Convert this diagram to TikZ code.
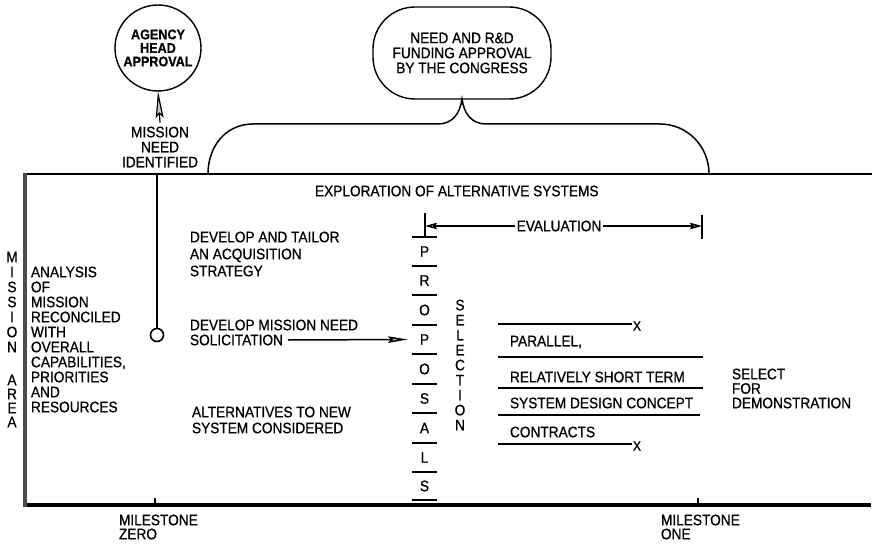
\documentclass[tikz,border=0pt]{standalone}
\usepackage{fontspec}
\setmainfont{Liberation Sans}[FakeStretch=0.9,FakeBold=0.8]
\usetikzlibrary{arrows.meta}
\begin{document}
\begin{tikzpicture}[x=1pt,y=-1pt,
  every node/.style={inner sep=0pt,outer sep=0pt},
  txt/.style={font=\fontsize{15.2}{15}\selectfont},
  txtbs/.style={font=\fontsize{15.2}{#1}\selectfont},
  lft/.style={align=left,anchor=west},
  ctr/.style={align=center},
  hline/.style={line width=1.5pt},
  arrowhd/.style={-{Stealth[length=#1,width=6.5pt,inset=2pt,fill=gray!45]}},
  barline/.style={line width=1.5pt},
]
\useasboundingbox (0,0) rectangle (874,545);

% frame of the mission area
\draw[line width=2.4pt] (24,174) -- (872,174);
\draw[line width=3.4pt] (24,505) -- (871,505);
\draw[line width=3.6pt,black!70] (25,172.8) -- (25,506.6);

% agency approval
\node[circle,draw,line width=1.4pt,minimum size=86pt,
      font=\bfseries\fontsize{14}{13.5}\selectfont,align=center]
  (agency) at (158,48) {AGENCY\\HEAD\\APPROVAL};
\node[txt,ctr] (mni) at (160,147) {MISSION\\NEED\\IDENTIFIED};
\draw[line width=1.2pt,-{Stealth[length=27pt,width=8pt,inset=4pt,fill=gray!45]}]
  ([yshift=4pt]mni.north) -- (agency.south);

% congressional approval and its brace
\node[draw,rounded corners=42pt,line width=1.4pt,minimum width=178pt,
      minimum height=92pt,txt,ctr]
  (congress) at (462,53) {NEED AND R\&D\\FUNDING APPROVAL\\BY THE CONGRESS};
\coordinate (braceL) at (208,174);
\coordinate (braceR) at (709,174);
\draw[hline] (braceL) .. controls (208,146) and (226,124) .. (253,124)
  -- (438,124) .. controls (452,124) and (460,114) .. (congress.south)
  .. controls (464,114) and (472,124) .. (486,124)
  -- (660,124) .. controls (687,124) and (709,146) .. (braceR);

% milestone zero line
\node[circle,draw,line width=1.6pt,minimum size=13pt] (dot) at (157,335) {};
\coordinate (m0top) at (157,174);
\draw[hline] (m0top) -- (dot.north);

% headings
\node[txt,anchor=west] (explore) at (315,191) {EXPLORATION OF ALTERNATIVE SYSTEMS};
\node[txt] (eval) at (559,226) {EVALUATION};
\coordinate (evL) at (425,226);
\coordinate (evR) at (702,226);
\draw[hline] (425,213) -- (425,237);
\draw[line width=1.6pt] (702,215) -- (702,239);
\draw[hline,arrowhd=12pt] ([xshift=-2pt]eval.west) -- (evL);
\draw[hline,arrowhd=12pt] ([xshift=2pt]eval.east) -- (evR);

% proposals column
\foreach \yy in {237,266,295,325,354,384,413,443,472,500}
  \draw[barline] (412,\yy) -- (437,\yy);
\node[txt] (pr1) at (424.5,251.5) {P};
\node[txt] (pr2) at (424.5,280.5) {R};
\node[txt] (pr3) at (424.5,310) {O};
\node[txt] (pr4) at (424.5,339.5) {P};
\node[txt] (pr5) at (424.5,369) {O};
\node[txt] (pr6) at (424.5,398.5) {S};
\node[txt] (pr7) at (424.5,428) {A};
\node[txt] (pr8) at (424.5,457.5) {L};
\node[txt] (pr9) at (424.5,486) {S};
\node[txtbs=15,ctr] (sel) at (460,365) {S\\E\\L\\E\\C\\T\\I\\O\\N};

% mission area label
\node[txtbs=15,ctr] (area1) at (12,302) {M\\I\\S\\S\\I\\O\\N};
\node[txtbs=14,ctr] (area2) at (12,401) {A\\R\\E\\A};

% left text
\node[txtbs=15,lft] (analysis) at (31,339.5)
  {ANALYSIS\\OF\\MISSION\\RECONCILED\\WITH\\OVERALL\\CAPABILITIES,\\PRIORITIES\\AND\\RESOURCES};

% middle text
\node[txtbs=17,lft] (tailor) at (190,254) {DEVELOP AND TAILOR\\AN ACQUISITION\\STRATEGY};
\node[txt,anchor=west] (dmn) at (190,325) {DEVELOP MISSION NEED};
\node[txt,anchor=west] (solic) at (190,340) {SOLICITATION};
\draw[hline,-{Stealth[length=20pt,width=6.5pt,inset=3pt,fill=gray!45]}]
  ([xshift=5pt]solic.east) -- ([xshift=-12pt]pr4.west);
\node[txtbs=16,lft] (altern) at (192,420) {ALTERNATIVES TO NEW\\SYSTEM CONSIDERED};

% contract lines
\node[font=\fontsize{13.5}{13}\selectfont] (x1) at (637,326) {X};
\node[font=\fontsize{13.5}{13}\selectfont] (x2) at (637,446) {X};
\draw[hline] (498,324) -- ([xshift=-1pt]x1.west |- 0,324);
\draw[hline] (498,357) -- (703,357);
\draw[hline] (498,388) -- (703,388);
\draw[hline] (498,415) -- (700,415);
\draw[hline] (498,444) -- ([xshift=-1pt]x2.west |- 0,444);
\node[txt,anchor=west] (par) at (510,342) {PARALLEL,};
\node[txt,anchor=west] (rel) at (510,377) {RELATIVELY SHORT TERM};
\node[txt,anchor=west] (sdc) at (510,403) {SYSTEM DESIGN CONCEPT};
\node[txt,anchor=west] (con) at (510,432) {CONTRACTS};
\node[txtbs=14.5,lft] (seldemo) at (732,388.5) {SELECT\\FOR\\DEMONSTRATION};

% milestones
\draw[line width=1.2pt] (155,498) -- (155,505);
\draw[line width=1.2pt] (698,498) -- (698,505);
\node[txtbs=14,lft] (ms0) at (119,527) {MILESTONE\\ZERO};
\node[txtbs=14,lft] (ms1) at (661,527) {MILESTONE\\ONE};
\end{tikzpicture}
\end{document}
